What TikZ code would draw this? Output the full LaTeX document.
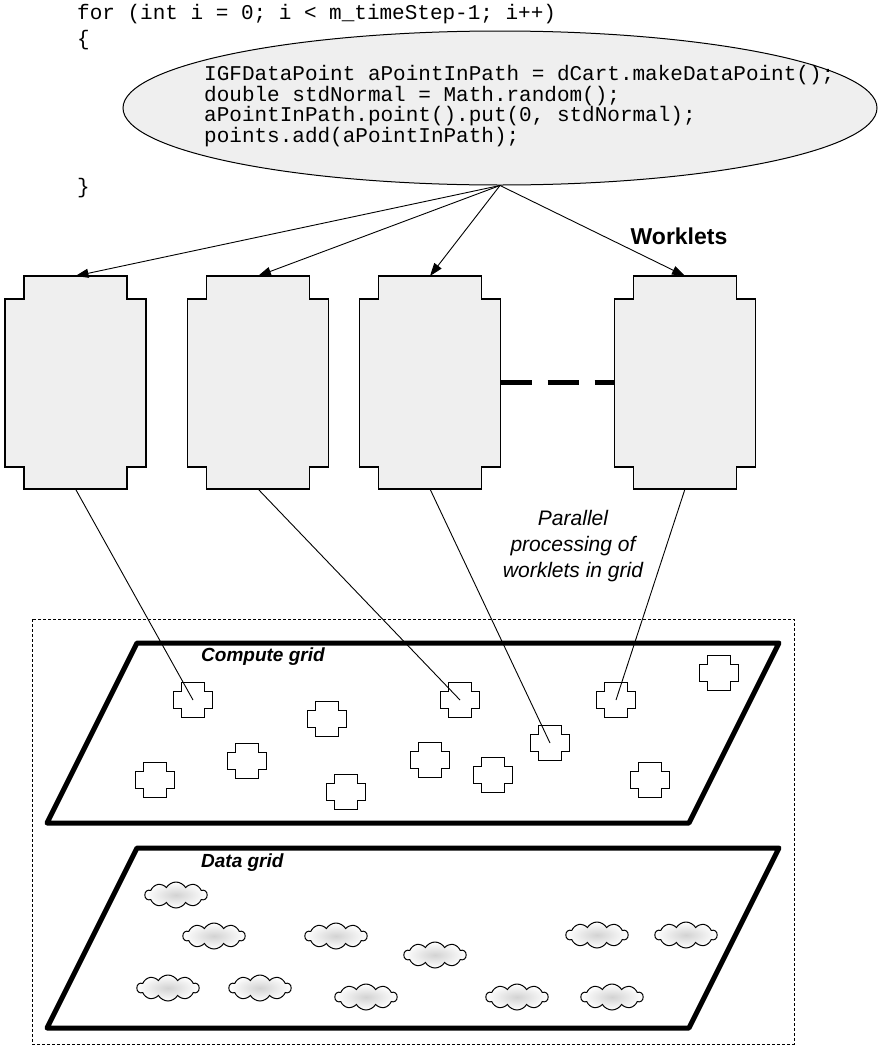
\documentclass[tikz,border=0pt]{standalone}
\usepackage{fontspec}
\setmainfont{Liberation Sans}
\setmonofont{Liberation Mono}
\usetikzlibrary{shapes.geometric,shapes.symbols,arrows.meta}
\definecolor{boxgray}{RGB}{239,239,239}
\begin{document}
\begin{tikzpicture}[
  x=1pt, y=-1pt,
  codetext/.style={font=\ttfamily\fontsize{21}{20.7}\selectfont, inner sep=0, anchor=west, align=left},
  wbox/.style={minimum width=103pt, minimum height=213pt, inner sep=0, outer sep=0},
  cell/.style={minimum width=23pt, minimum height=35pt, inner sep=0, outer sep=0},
  outline/.style={draw=black, line width=1.1pt, fill=boxgray},
  celloutline/.style={draw=black, line width=1.1pt, fill=white},
  arr/.style={-{Triangle[length=13pt,width=9pt]}, line width=0.9pt},
  link/.style={line width=0.9pt},
  gridplane/.style={line width=5pt, line join=round},
  frame/.style={line width=0.8pt, dash pattern=on 3pt off 2pt},
  ellipsisline/.style={line width=4.5pt, dash pattern=on 31pt off 16pt},
  puff/.style={cloud, cloud puffs=10, cloud puff arc=120, cloud ignores aspect,
    draw, line width=1pt, inner color=gray!35, outer color=white,
    minimum width=62pt, minimum height=26pt, inner sep=0},
  gridlabel/.style={font=\bfseries\itshape\fontsize{19}{22}\selectfont, anchor=west, inner sep=0},
]
\useasboundingbox (0,0) rectangle (896,1047);

% loop body shown as code
\node[codetext] (forline) at (77,14) {for (int i = 0; i < m\_timeStep-1; i++)};
\node[codetext] (openbrace) at (77,40) {\{};
\node[codetext] (closebrace) at (77,188) {\}};
\node[ellipse, draw, line width=1pt, fill=boxgray, minimum width=754pt, minimum height=154pt, inner sep=0] (ell) at (500,108) {};
\node[codetext] (body) at (204,106) {IGFDataPoint aPointInPath = dCart.makeDataPoint();\\
double stdNormal = Math.random();\\
aPointInPath.point().put(0, stdNormal);\\
points.add(aPointInPath);};

% grids
\draw[frame] (32,619) rectangle (794,1044);
\draw[gridplane] (137,643) -- (779,643) -- (689,823) -- (47,823) -- cycle;
\draw[gridplane] (137,848) -- (779,848) -- (689,1028) -- (47,1028) -- cycle;
\node[gridlabel] (cglabel) at (201,657) {Compute grid};
\node[gridlabel] (dglabel) at (201,863) {Data grid};

% compute nodes
\foreach \n/\x/\y in {c1/193/700, c2/327/719, c3/247/761, c4/155/780, c5/346/792,
    c6/460/700, c7/430/760, c8/493/775, c9/550/743, c10/616/700, c11/719/673, c12/650/780}{
  \node[cell] (\n) at (\x,\y) {};
  \path[celloutline] (\n.north west) -- (\n.north east) -- ++(0,9) -- ++(8,0) -- ++(0,17)
    -- ++(-8,0) -- (\n.south east) -- (\n.south west) -- ++(0,-9) -- ++(-8,0)
    -- ++(0,-17) -- ++(8,0) -- cycle;
}

% data stores
\foreach \n/\x/\y in {d1/176/895, d2/214/936, d3/336/936, d4/435/955, d5/168/988,
    d6/260/988, d7/366/997, d8/517/997, d9/597/935, d10/686/935, d11/612/997}{
  \node[puff] (\n) at (\x,\y) {};
}

% worklets
\foreach \n/\cx in {w1/75.5, w2/258, w3/430, w4/685}{
  \node[wbox] (\n) at (\cx,382.5) {};
  \path[outline] (\n.north west) -- (\n.north east) -- ++(0,23) -- ++(19,0) -- ++(0,168)
    -- ++(-19,0) -- (\n.south east) -- (\n.south west) -- ++(0,-22) -- ++(-19,0)
    -- ++(0,-168) -- ++(19,0) -- cycle;
}
\draw[ellipsisline] ([xshift=19pt]w3.east) -- ([xshift=-19pt]w4.west);
\node[font=\bfseries\fontsize{23}{26}\selectfont, inner sep=0] (wlabel) at (679,236) {Worklets};

\foreach \n in {w1,w2,w3,w4}{
  \draw[arr] (ell.south) -- (\n.north);
}

\draw[link] (w1.south) -- (c1.center);
\draw[link] (w2.south) -- (c6.center);
\draw[link] (w3.south) -- (c9.center);
\draw[link] (w4.south) -- (c10.center);

\node[font=\itshape\fontsize{21}{26}\selectfont, align=center, inner sep=0] (plabel) at (573,546)
  {Parallel\\processing of\\worklets in grid};
\end{tikzpicture}
\end{document}
